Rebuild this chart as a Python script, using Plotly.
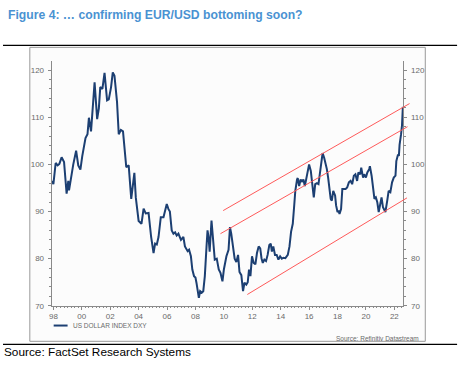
import plotly.graph_objects as go

# ---------------- data ----------------
years = [1997.9, 1998.0, 1998.16, 1998.3, 1998.42, 1998.58, 1998.75, 1998.93, 1999.05, 1999.1,
         1999.4, 1999.6, 1999.75, 1999.9, 2000.03, 2000.26, 2000.4, 2000.5, 2000.65, 2000.78,
         2000.9, 2001.08, 2001.2, 2001.3, 2001.45, 2001.6, 2001.78, 2001.9, 2002.06, 2002.18,
         2002.3, 2002.48, 2002.6, 2002.75, 2002.9, 2003.13, 2003.3, 2003.48, 2003.6, 2003.7,
         2003.8, 2004.0, 2004.2, 2004.35, 2004.5, 2004.7, 2004.88, 2005.05, 2005.16, 2005.28,
         2005.4, 2005.56, 2005.75, 2005.85, 2005.98, 2006.1, 2006.2, 2006.33, 2006.45, 2006.57,
         2006.68, 2006.8, 2006.98, 2007.15, 2007.26, 2007.45, 2007.55, 2007.68, 2007.78, 2007.9,
         2008.0, 2008.07, 2008.24, 2008.33, 2008.45, 2008.55, 2008.66, 2008.78, 2008.85, 2008.92,
         2009.0, 2009.13, 2009.2, 2009.36, 2009.5, 2009.64, 2009.76, 2009.9, 2010.0, 2010.18,
         2010.33, 2010.43, 2010.52, 2010.64, 2010.76, 2010.88, 2011.0, 2011.1, 2011.23, 2011.35,
         2011.45, 2011.58, 2011.68, 2011.77, 2011.87, 2011.98, 2012.1, 2012.22, 2012.33, 2012.45,
         2012.56, 2012.65, 2012.74, 2012.85, 2012.97, 2013.08, 2013.2, 2013.3, 2013.38, 2013.48,
         2013.6, 2013.72, 2013.84, 2013.96, 2014.08, 2014.2, 2014.33, 2014.5, 2014.62, 2014.73,
         2014.85, 2014.96, 2015.03, 2015.15, 2015.2, 2015.3, 2015.4, 2015.5, 2015.6, 2015.7,
         2015.9, 2016.0, 2016.12, 2016.24, 2016.33, 2016.43, 2016.55, 2016.66, 2016.75, 2016.82,
         2016.95, 2017.06, 2017.17, 2017.25, 2017.34, 2017.4, 2017.52, 2017.6, 2017.7, 2017.83,
         2017.9, 2018.0, 2018.08, 2018.14, 2018.25, 2018.34, 2018.45, 2018.57, 2018.68, 2018.8,
         2018.92, 2019.03, 2019.15, 2019.26, 2019.38, 2019.47, 2019.6, 2019.67, 2019.8, 2019.88,
         2020.0, 2020.1, 2020.23, 2020.28, 2020.4, 2020.47, 2020.52, 2020.6, 2020.7, 2020.8,
         2020.9, 2021.0, 2021.1, 2021.2, 2021.28, 2021.37, 2021.5, 2021.6, 2021.72, 2021.84,
         2021.96, 2022.08, 2022.14, 2022.26, 2022.32, 2022.37, 2022.47, 2022.54, 2022.6]
dxy = [96.5, 95.8, 100.3, 99.8, 100.1, 101.5, 100.5, 93.8, 96.5, 94.5,
       100.0, 102.9, 99.8, 98.9, 101.7, 105.6, 106.4, 109.9, 107.0, 112.2,
       117.4, 109.6, 111.9, 116.4, 116.0, 119.4, 113.6, 113.8, 116.4, 119.5,
       118.8, 113.2, 106.4, 107.3, 107.0, 99.4, 99.8, 92.7, 95.2, 98.2,
       93.0, 88.0, 87.4, 90.6, 89.6, 89.7, 84.6, 81.2, 83.2, 83.0,
       84.6, 88.8, 88.8, 89.8, 91.6, 90.5, 90.0, 86.0, 85.3, 85.6,
       84.9, 85.3, 84.0, 84.6, 82.6, 81.6, 81.9, 80.5, 77.7, 76.3,
       76.0, 74.9, 71.7, 73.1, 72.8, 73.1, 76.3, 82.6, 86.0, 84.6,
       81.5, 88.1, 86.0, 79.8, 80.0, 77.7, 77.0, 75.2, 77.7, 80.5,
       81.9, 86.7, 85.3, 82.2, 80.0, 79.3, 80.8, 77.2, 76.5, 73.1,
       74.9, 74.5, 75.0, 77.7, 76.3, 80.5, 79.1, 78.8, 81.2, 82.6,
       82.2, 80.1, 79.1, 79.8, 79.5, 80.8, 82.9, 83.2, 81.5, 82.6,
       80.8, 80.8, 79.8, 80.5, 80.0, 80.2, 80.1, 80.8, 82.6, 85.7,
       87.4, 91.6, 94.4, 96.8, 97.1, 95.4, 96.8, 96.4, 96.8, 95.4,
       98.6, 100.0, 98.6, 95.8, 93.0, 95.8, 96.0, 95.8, 97.9, 100.0,
       102.4, 101.4, 100.3, 99.0, 97.2, 95.1, 92.7, 92.3, 94.4, 93.4,
       91.3, 89.9, 90.2, 89.5, 90.5, 94.8, 94.8, 94.8, 95.1, 96.2,
       96.5, 95.8, 97.6, 97.9, 96.5, 98.3, 97.9, 99.3, 97.2, 97.9,
       97.2, 98.3, 99.0, 99.6, 97.6, 95.8, 93.4, 92.7, 93.0, 92.0,
       89.9, 91.3, 93.0, 90.9, 90.5, 89.9, 92.3, 94.4, 94.1, 96.2,
       97.2, 97.6, 100.7, 102.1, 101.8, 104.2, 106.3, 108.3, 112.2]

# trend channel lines (start/end points)
channel_x = [[2009.95, 2023.07], [2009.76, 2022.93], [2011.65, 2022.89]]
channel_y = [[90.2, 112.9], [85.3, 108.0], [72.4, 92.9]]

tick_years = [1998, 2000, 2002, 2004, 2006, 2008, 2010, 2012, 2014, 2016, 2018, 2020, 2022]
tick_labels = ["98", "00", "02", "04", "06", "08", "10", "12", "14", "16", "18", "20", "22"]
y_ticks = [70, 80, 90, 100, 110, 120]

series_name = "US DOLLAR INDEX DXY"
title_text = "Figure 4: \u2026 confirming EUR/USD bottoming soon?"
inner_source = "Source: Refinitiv Datastream"
outer_source = "Source: FactSet Research Systems"

# ---------------- layout constants ----------------
W, H = 470, 370
PX_L, PX_R, PX_T, PX_B = 49, 403, 62, 310  # plot area in pixels
X_RANGE = [1997.88, 2022.64]
Y_RANGE = [70, 121.9]
px_per_year = (PX_R - PX_L) / (X_RANGE[1] - X_RANGE[0])
PX_R2 = 413  # wider invisible axis so channel lines may cross the right axis
X2_RANGE = [X_RANGE[0], X_RANGE[0] + (PX_R2 - PX_L) / px_per_year]

def fx(px):
    return px / W

def fy(py):
    return (H - py) / H

NAVY = "#1c3f72"
RED = "#ff5a5a"
AXIS = "#8a8a8a"
TXT = "#6a6a6a"
FONT = "Liberation Sans, Arial, sans-serif"

fig = go.Figure()

fig.add_trace(go.Scatter(x=years, y=dxy, mode="lines",
                         line=dict(color=NAVY, width=2), name=series_name,
                         xaxis="x", yaxis="y", showlegend=False, hoverinfo="skip"))

for cx, cy in zip(channel_x, channel_y):
    fig.add_trace(go.Scatter(x=cx, y=cy, mode="lines", line=dict(color=RED, width=1),
                             xaxis="x2", yaxis="y", showlegend=False, hoverinfo="skip"))

# invisible trace to activate right-hand axis
fig.add_trace(go.Scatter(x=[years[0]], y=[dxy[0]], mode="lines", xaxis="x", yaxis="y2",
                         line=dict(width=0), showlegend=False, hoverinfo="skip"))

axis_font = dict(family=FONT, size=8, color=TXT)

fig.update_layout(
    width=W, height=H,
    margin=dict(l=0, r=0, t=0, b=0),
    paper_bgcolor="white",
    plot_bgcolor="rgba(0,0,0,0)",
    showlegend=False,
    xaxis=dict(domain=[fx(PX_L), fx(PX_R)], range=X_RANGE, anchor="y",
               tickmode="array", tickvals=tick_years, ticktext=tick_labels,
               ticks="outside", ticklen=3, tickcolor=AXIS, tickwidth=1,
               showline=True, linecolor=AXIS, linewidth=1, showgrid=False, zeroline=False,
               tickfont=axis_font,
               minor=dict(tickmode="linear", tick0=1998, dtick=0.25, ticks="outside",
                          ticklen=1.5, tickcolor=AXIS, showgrid=False)),
    xaxis2=dict(domain=[fx(PX_L), fx(PX_R2)], range=X2_RANGE, anchor="y",
                visible=False, showgrid=False, zeroline=False),
    yaxis=dict(domain=[fy(PX_B), fy(PX_T)], range=Y_RANGE, anchor="x",
               tickmode="array", tickvals=y_ticks,
               ticks="outside", ticklen=3, tickcolor=AXIS,
               showline=True, linecolor=AXIS, linewidth=1, showgrid=False, zeroline=False,
               tickfont=axis_font, ticklabelstandoff=2,
               minor=dict(tickmode="linear", tick0=70, dtick=2, ticks="outside",
                          ticklen=2, tickcolor=AXIS, showgrid=False)),
    yaxis2=dict(overlaying="y", side="right", anchor="x", range=Y_RANGE,
                tickmode="array", tickvals=y_ticks,
                ticks="outside", ticklen=3, tickcolor=AXIS,
                showline=True, linecolor=AXIS, linewidth=1, showgrid=False, zeroline=False,
                tickfont=axis_font, ticklabelstandoff=2,
                minor=dict(tickmode="linear", tick0=70, dtick=2, ticks="outside",
                           ticklen=2, tickcolor=AXIS, showgrid=False)),
)

shapes = [
    # inner chart box
    dict(type="rect", xref="paper", yref="paper", x0=fx(27), x1=fx(425), y0=fy(346), y1=fy(48),
         fillcolor="#fcfcfc", line=dict(color="#9a9a9a", width=1), layer="below"),
    # top rule
    dict(type="line", xref="paper", yref="paper", x0=0, x1=fx(457), y0=fy(46), y1=fy(46),
         line=dict(color="black", width=1.3)),
    # bottom rule
    dict(type="line", xref="paper", yref="paper", x0=0, x1=fx(457), y0=fy(349), y1=fy(349),
         line=dict(color="black", width=1.3)),
    # legend sample
    dict(type="line", xref="paper", yref="paper", x0=fx(51), x1=fx(65), y0=fy(330), y1=fy(330),
         line=dict(color=NAVY, width=2)),
]
fig.update_layout(shapes=shapes)

annotations = [
    dict(text=title_text, x=fx(3), y=fy(15), xref="paper", yref="paper",
         xanchor="left", yanchor="middle", showarrow=False,
         font=dict(family="Liberation Sans, Arial, sans-serif",
                   size=12.2, color="#4a92d2", weight="bold")),
    dict(text=series_name, x=fx(68), y=fy(330), xref="paper", yref="paper",
         xanchor="left", yanchor="middle", showarrow=False,
         font=dict(family=FONT, size=6.5, color=TXT)),
    dict(text=inner_source, x=fx(421), y=fy(343), xref="paper", yref="paper",
         xanchor="right", yanchor="middle", showarrow=False,
         font=dict(family=FONT, size=6.5, color=TXT)),
    dict(text=outer_source, x=fx(-1), y=fy(357), xref="paper", yref="paper",
         xanchor="left", yanchor="middle", showarrow=False,
         font=dict(family=FONT, size=11.8, color="black")),
]
fig.update_layout(annotations=annotations)

fig.write_html("out.html", post_script="document.body.style.margin='0';",
               config={"displayModeBar": False})
